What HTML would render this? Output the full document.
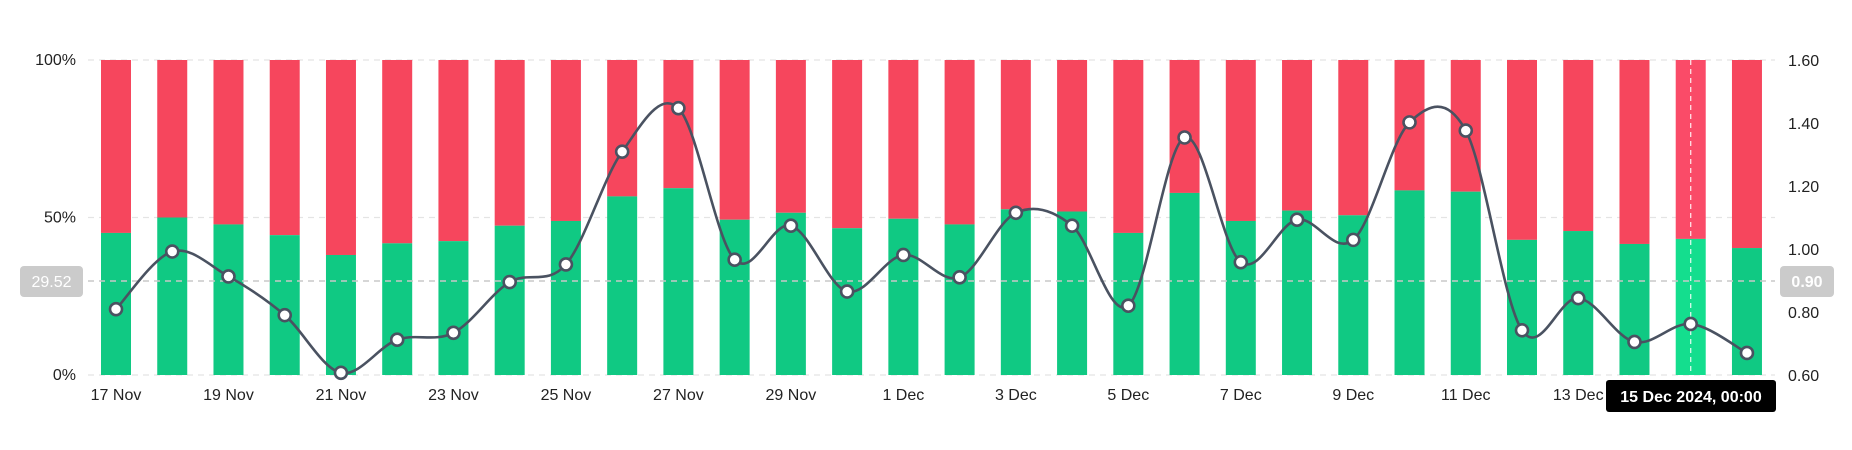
<!DOCTYPE html>
<html><head><meta charset="utf-8"><style>
html,body{margin:0;padding:0;background:#fff;}
svg{display:block;font-family:"Liberation Sans",sans-serif;}
</style></head><body>
<svg id="c" width="1852" height="450" xmlns="http://www.w3.org/2000/svg"></svg>
<script>
const g=[45.1,50,47.8,44.4,38.1,41.8,42.5,47.4,48.9,56.7,59.3,49.3,51.5,46.6,49.6,47.8,52.6,51.9,45.1,57.8,48.9,52.2,50.7,58.6,58.2,42.9,45.7,41.6,43.2,40.3];
const v=[0.809,0.992,0.913,0.79,0.607,0.712,0.734,0.895,0.951,1.309,1.447,0.966,1.074,0.865,0.981,0.91,1.115,1.074,0.82,1.354,0.958,1.093,1.029,1.402,1.376,0.742,0.844,0.705,0.762,0.670];
const T=60,B=375,H=B-T,P=56.24,X0=101,W=30;
let s='';
const grid=y=>`<line x1="88" x2="1775" y1="${y}" y2="${y}" stroke="#e4e4e4" stroke-dasharray="6,5" stroke-width="1.2"/>`;
s+=grid(T)+grid((T+B)/2)+grid(B);
for(let i=0;i<30;i++){
 const x=X0+i*P, gy=B-g[i]/100*H, hov=i==28;
 s+=`<rect x="${x}" y="${T}" width="${W}" height="${gy-T}" fill="${hov?'#fa4b68':'#f6465d'}"/>`;
 s+=`<rect x="${x}" y="${gy}" width="${W}" height="${B-gy}" fill="${hov?'#14de8e':'#10c983'}"/>`;
}
// crosshair
s+=`<line x1="88" x2="1775" y1="281" y2="281" stroke="#c8c8c8" stroke-dasharray="6,5" stroke-width="1.5"/>`;
const hx=X0+28*P+W/2;
s+=`<line x1="${hx}" x2="${hx}" y1="${T}" y2="${B}" stroke="#fff" stroke-dasharray="5,4" stroke-width="1.2" opacity="0.9"/>`;
// line
const pts=v.map((val,i)=>[X0+i*P+W/2,B-(val-0.6)*H]);
let d=`M${pts[0][0]},${pts[0][1]}`;
for(let i=0;i<pts.length-1;i++){
 const p0=pts[Math.max(0,i-1)],p1=pts[i],p2=pts[i+1],p3=pts[Math.min(pts.length-1,i+2)];
 const k=1/6;
 d+=` C${p1[0]+(p2[0]-p0[0])*k},${p1[1]+(p2[1]-p0[1])*k} ${p2[0]-(p3[0]-p1[0])*k},${p2[1]-(p3[1]-p1[1])*k} ${p2[0]},${p2[1]}`;
}
s+=`<path d="${d}" fill="none" stroke="#4a5261" stroke-width="2.6"/>`;
pts.forEach(p=>s+=`<circle cx="${p[0]}" cy="${p[1]}" r="6" fill="#fff" stroke="#4a5261" stroke-width="2.6"/>`);
// left labels
[[T,'100%'],[(T+B)/2,'50%'],[B,'0%']].forEach(([y,t])=>s+=`<text x="76" y="${y+5}" font-size="16" text-anchor="end" fill="#222">${t}</text>`);
// right labels
for(let k=0;k<=5;k++){const val=0.6+k*0.2;const y=B-(val-0.6)*H;s+=`<text x="1788" y="${y+6}" font-size="16" fill="#222">${val.toFixed(2)}</text>`;}
// x labels
const lab=['17 Nov','19 Nov','21 Nov','23 Nov','25 Nov','27 Nov','29 Nov','1 Dec','3 Dec','5 Dec','7 Dec','9 Dec','11 Dec','13 Dec'];
lab.forEach((t,j)=>s+=`<text x="${X0+j*2*P+W/2}" y="400" font-size="16" text-anchor="middle" fill="#222">${t}</text>`);
// crosshair labels
s+=`<rect x="20" y="266" width="63" height="31" rx="4" fill="#cbcbcb"/><text x="51.5" y="287" font-size="16" text-anchor="middle" fill="#fff">29.52</text>`;
s+=`<rect x="1780" y="266" width="54" height="31" rx="4" fill="#cbcbcb"/><text x="1807" y="287" font-size="16" text-anchor="middle" fill="#fff" font-weight="bold">0.90</text>`;
s+=`<rect x="1606" y="380" width="170" height="32" rx="3" fill="#000"/><text x="1691" y="402" font-size="16" text-anchor="middle" fill="#fff" font-weight="bold">15 Dec 2024, 00:00</text>`;
document.getElementById('c').innerHTML=s;
</script>
</body></html>
